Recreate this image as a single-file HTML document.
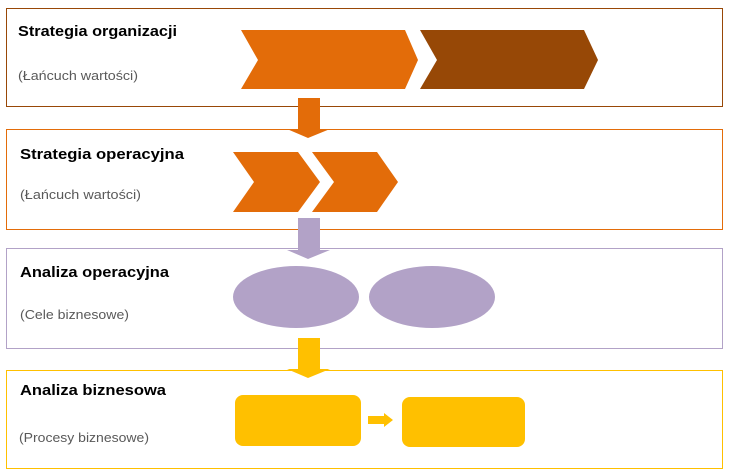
<!DOCTYPE html>
<html><head><style>html,body{margin:0;padding:0;background:#fff;}svg{display:block}</style></head>
<body>
<svg width="734" height="472" xmlns="http://www.w3.org/2000/svg" font-family="Liberation Sans, sans-serif">
<rect x="6.5" y="8.5" width="716" height="98" fill="none" stroke="#984807" stroke-width="1"/>
<rect x="6.5" y="129.5" width="716" height="100" fill="none" stroke="#e36c09" stroke-width="1"/>
<rect x="6.5" y="248.5" width="716" height="100" fill="none" stroke="#b2a2c7" stroke-width="1"/>
<rect x="6.5" y="370.5" width="716" height="98" fill="none" stroke="#ffc000" stroke-width="1"/>

<polygon points="241,30 405,30 418,60 405,89 241,89 258,60" fill="#e36c09"/>
<polygon points="420,30 584,30 598,60 584,89 420,89 437,60" fill="#974806"/>

<polygon points="298,98 320,98 320,129 330,129 308,138 287,129 298,129" fill="#e36c09"/>

<polygon points="233,152 298,152 320,182 298,212 233,212 254,182" fill="#e36c09"/>
<polygon points="312,152 377,152 398,182 377,212 312,212 334,182" fill="#e36c09"/>

<polygon points="298,218 320,218 320,250 330,250 308,259 287,250 298,250" fill="#b2a2c7"/>

<ellipse cx="296" cy="297" rx="63" ry="31" fill="#b2a2c7"/>
<ellipse cx="432" cy="297" rx="63" ry="31" fill="#b2a2c7"/>

<polygon points="298,338 320,338 320,369 330,369 308,378 287,369 298,369" fill="#ffc000"/>

<rect x="235" y="395" width="126" height="51" rx="8" fill="#ffc000"/>
<rect x="402" y="397" width="123" height="50" rx="8" fill="#ffc000"/>
<polygon points="368,416 384,416 384,413 393,420 384,427 384,424 368,424" fill="#ffc000"/>

<g font-weight="bold" font-size="15" fill="#000">
<text x="18" y="36" textLength="159" lengthAdjust="spacingAndGlyphs">Strategia organizacji</text>
<text x="20" y="159" textLength="164" lengthAdjust="spacingAndGlyphs">Strategia operacyjna</text>
<text x="20" y="277" textLength="149" lengthAdjust="spacingAndGlyphs">Analiza operacyjna</text>
<text x="20" y="395" textLength="146" lengthAdjust="spacingAndGlyphs">Analiza biznesowa</text>
</g>
<g font-size="13" fill="#595959">
<text x="18" y="80" textLength="120" lengthAdjust="spacingAndGlyphs">(Łańcuch wartości)</text>
<text x="20" y="199" textLength="121" lengthAdjust="spacingAndGlyphs">(Łańcuch wartości)</text>
<text x="20" y="319" textLength="109" lengthAdjust="spacingAndGlyphs">(Cele biznesowe)</text>
<text x="19" y="442" textLength="130" lengthAdjust="spacingAndGlyphs">(Procesy biznesowe)</text>
</g>
</svg>
</body></html>
